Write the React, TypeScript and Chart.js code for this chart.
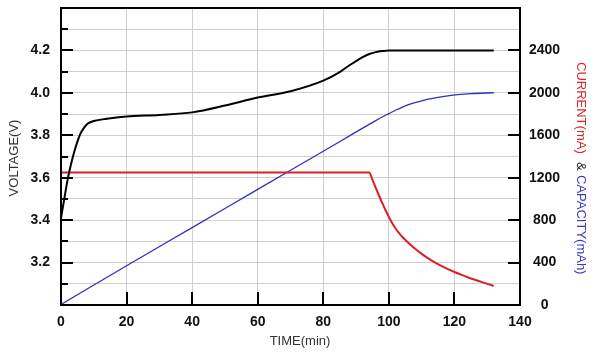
import React, { useEffect, useRef } from "react";
import { Chart, registerables } from "chart.js";

Chart.register(...registerables);

// ---- data ----
const timeV = [0, 1, 2, 3, 4, 5, 6, 7, 8, 10, 14, 20, 30, 40, 50, 60, 70, 80, 85, 88, 90, 92, 94, 96, 98, 100, 104, 110, 120, 132];
const voltage = [3.41, 3.5, 3.59, 3.66, 3.72, 3.77, 3.81, 3.835, 3.853, 3.867, 3.878, 3.888, 3.896, 3.908, 3.94, 3.978, 4.008, 4.058, 4.098, 4.13, 4.15, 4.168, 4.183, 4.192, 4.197, 4.2, 4.2, 4.2, 4.2, 4.2];

const timeC = [0, 94, 95, 96, 97, 98, 99, 100, 101, 102, 103, 104, 106, 108, 110, 112, 114, 116, 118, 120, 122, 124, 126, 128, 130, 132];
const current = [1250, 1250, 1180, 1105, 1030, 960, 893, 830, 773, 724, 682, 646, 585, 530, 482, 440, 402, 368, 338, 311, 286, 262, 240, 220, 199, 180];

const timeQ = [0, 20, 40, 60, 80, 96, 98, 100, 102, 104, 106, 108, 110, 112, 115, 118, 121, 125, 132];
const capacity = [5, 370, 730, 1090, 1450, 1738, 1772, 1804, 1836, 1864, 1888, 1908, 1925, 1940, 1958, 1972, 1983, 1993, 2001];

const xTitle = "TIME(min)";
const yTitle = "VOLTAGE(V)";
const y1TitleParts = [
  { text: "CURRENT(mA)", color: "#d9262e", at: 0 },
  { text: "&", color: "#222222", at: 100 },
  { text: "CAPACITY(mAh)", color: "#3a3ac0", at: 113 },
];

const RED = "#dc1f27";
const BLUE = "#3030b8";
const FONT = '"Liberation Sans", Arial, sans-serif';

const frame = {
  id: "frame",
  afterDraw(chart: any) {
    const { ctx, chartArea: a, scales } = chart;
    const x = scales.x, y = scales.y, y1 = scales.y1;
    ctx.save();
    ctx.strokeStyle = "#000";
    ctx.lineWidth = 2;
    ctx.lineCap = "butt";
    ctx.strokeRect(a.left, a.top, a.right - a.left, a.bottom - a.top);
    ctx.beginPath();
    y.ticks.forEach((t: any) => {
      const v = t.value;
      if (v <= y.min + 1e-6 || v >= y.max - 1e-6) return;
      const major = Math.round(v * 10) % 2 === 0;
      const py = Math.round(y.getPixelForValue(v));
      ctx.moveTo(a.left, py);
      ctx.lineTo(a.left + (major ? 12 : 7), py);
    });
    y1.ticks.forEach((t: any) => {
      const v = t.value;
      if (v >= y1.max - 1e-6) return;
      const py = Math.round(y1.getPixelForValue(v));
      ctx.moveTo(a.right, py);
      ctx.lineTo(a.right - 12, py);
    });
    x.ticks.forEach((t: any) => {
      const v = t.value;
      if (v <= x.min + 1e-6 || v >= x.max - 1e-6) return;
      const px = Math.round(x.getPixelForValue(v));
      ctx.moveTo(px, a.bottom);
      ctx.lineTo(px, a.bottom - 13);
    });
    ctx.stroke();

    ctx.font = `13px ${FONT}`;
    ctx.fillStyle = "#333";
    ctx.textAlign = "center";
    ctx.textBaseline = "middle";
    ctx.fillText(xTitle, 300, 341);

    ctx.save();
    ctx.translate(14, 158);
    ctx.rotate(-Math.PI / 2);
    ctx.fillText(yTitle, 0, 0);
    ctx.restore();

    ctx.save();
    ctx.translate(581, 62);
    ctx.rotate(Math.PI / 2);
    ctx.textAlign = "left";
    y1TitleParts.forEach((p) => {
      ctx.fillStyle = p.color;
      ctx.fillText(p.text, p.at, 0);
    });
    ctx.restore();
    ctx.restore();
  },
};

export default function App() {
  const ref = useRef<HTMLCanvasElement | null>(null);
  useEffect(() => {
    document.body.style.margin = "0";
    const tickFont = { family: FONT, size: 14, weight: "bold" as const };
    const chart = new Chart(ref.current as HTMLCanvasElement, {
      type: "line",
      data: {
        datasets: [
          {
            label: "Voltage",
            data: timeV.map((t, i) => ({ x: t, y: voltage[i] })),
            yAxisID: "y",
            borderColor: "#000",
            borderWidth: 2,
            pointRadius: 0,
            cubicInterpolationMode: "monotone",
          },
          {
            label: "Current",
            data: timeC.map((t, i) => ({ x: t, y: current[i] })),
            yAxisID: "y1",
            borderColor: RED,
            borderWidth: 2,
            pointRadius: 0,
            cubicInterpolationMode: "monotone",
          },
          {
            label: "Capacity",
            data: timeQ.map((t, i) => ({ x: t, y: capacity[i] })),
            yAxisID: "y1",
            borderColor: BLUE,
            borderWidth: 1.3,
            pointRadius: 0,
            cubicInterpolationMode: "monotone",
          },
        ],
      },
      options: {
        responsive: false,
        animation: false,
        devicePixelRatio: 1,
        layout: { padding: { top: 8, left: 0, right: 0, bottom: 0 } },
        plugins: { legend: { display: false }, tooltip: { enabled: false } },
        scales: {
          x: {
            type: "linear",
            min: 0,
            max: 140,
            ticks: { stepSize: 20, font: tickFont, color: "#111", padding: 9, maxRotation: 0 },
            grid: { color: "#cfcfcf", lineWidth: 1, drawTicks: false },
            border: { display: false },
            afterFit: (s: any) => {
              s.height = 52;
              s.paddingLeft = 0;
              s.paddingRight = 0;
            },
          },
          y: {
            type: "linear",
            position: "left",
            min: 3.0,
            max: 4.4,
            ticks: {
              stepSize: 0.1,
              font: tickFont,
              color: "#111",
              padding: 11,
              autoSkip: false,
              callback: (v: any) => {
                const k = Math.round(Number(v) * 10);
                return k % 2 === 0 && k >= 32 && k <= 42 ? (k / 10).toFixed(1) : "";
              },
            },
            grid: { color: "#cfcfcf", lineWidth: 1, drawTicks: false },
            border: { display: false },
            afterFit: (s: any) => {
              s.width = 61;
              s.paddingTop = 0;
              s.paddingBottom = 0;
            },
          },
          y1: {
            type: "linear",
            position: "right",
            min: 0,
            max: 2800,
            ticks: {
              stepSize: 400,
              font: tickFont,
              color: "#111",
              padding: 9,
              crossAlign: "center",
              callback: (v: any) => (Number(v) >= 2800 ? "" : String(v)),
            },
            grid: { display: false, drawTicks: false },
            border: { display: false },
            afterFit: (s: any) => {
              s.width = 80;
              s.paddingTop = 0;
              s.paddingBottom = 0;
            },
          },
        },
      },
      plugins: [frame],
    });
    return () => chart.destroy();
  }, []);
  return (
    <div style={{ position: "absolute", left: 0, top: 0, width: 600, height: 357, background: "#fff" }}>
      <canvas ref={ref} width={600} height={357} />
    </div>
  );
}
